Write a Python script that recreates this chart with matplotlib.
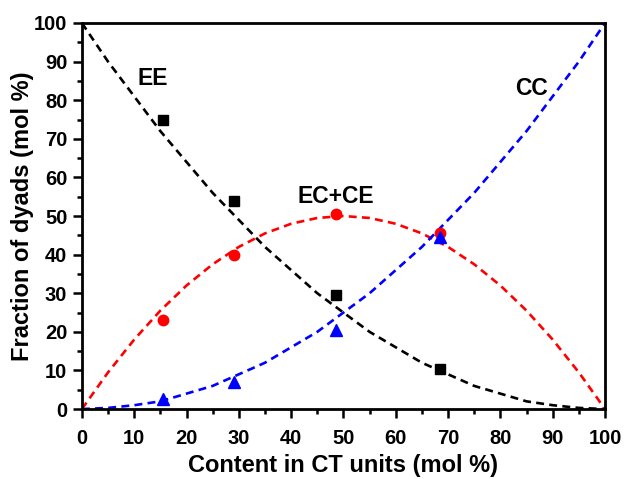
import matplotlib
matplotlib.use('Agg')
import matplotlib.pyplot as plt
from matplotlib.ticker import MultipleLocator

plt.rcParams['font.family'] = ['Liberation Sans', 'DejaVu Sans']
plt.rcParams['font.weight'] = 'bold'

# dashed curves, every 5 mol %
x_curve = [0, 5, 10, 15, 20, 25, 30, 35, 40, 45, 50, 55, 60, 65, 70, 75, 80, 85, 90, 95, 100]
ee_curve = [100, 90, 81, 72, 64, 56, 49, 42, 36, 30, 25, 20, 16, 12, 9, 6, 4, 2, 1, 0.3, 0]
ecce_curve = [0, 9.5, 18, 25.5, 32, 37.5, 42, 45.5, 48, 49.5, 50, 49.5, 48, 45.5, 42, 37.5, 32, 25.5, 18, 9.5, 0]
cc_curve = [0, 0.3, 1, 2, 4, 6, 9, 12, 16, 20, 25, 30, 36, 42, 49, 56, 64, 72, 81, 90, 100]

# measured points
x_pts = [15.5, 29, 48.5, 68.5]
ee_pts = [75, 54, 29.5, 10.5]
ecce_pts = [23, 40, 50.5, 45.5]
cc_pts = [2.5, 7, 20.5, 44.5]

fig = plt.figure(figsize=(6.25, 4.79), dpi=100)
ax = fig.add_axes([0.131, 0.146, 0.837, 0.806])

dash = (0, (3, 2))
ax.plot(x_curve, ee_curve, color='black', lw=1.9, linestyle=dash)
ax.plot(x_curve, ecce_curve, color='#ff0000', lw=1.9, linestyle=dash)
ax.plot(x_curve, cc_curve, color='#0000ff', lw=1.9, linestyle=dash)

ax.plot(x_pts, ee_pts, 's', color='black', ms=6.5, ls='none')
ax.plot(x_pts, ecce_pts, 'o', color='#ff0000', ms=7.5, ls='none')
ax.plot(x_pts, cc_pts, '^', color='#0000ff', ms=8, ls='none')

ax.text(13.5, 85.5, 'EE', fontsize=16.5, fontweight='bold', ha='center', va='center')
ax.text(86, 83, 'CC', fontsize=16.5, fontweight='bold', ha='center', va='center')
ax.text(48.5, 55, 'EC+CE', fontsize=16.5, fontweight='bold', ha='center', va='center')

ax.set_xlim(0, 100)
ax.set_ylim(0, 100)
ax.xaxis.set_major_locator(MultipleLocator(10))
ax.xaxis.set_minor_locator(MultipleLocator(5))
ax.yaxis.set_major_locator(MultipleLocator(10))
ax.yaxis.set_minor_locator(MultipleLocator(5))
ax.tick_params(which='major', direction='out', length=6.5, width=1.8, labelsize=14.5, pad=4)
ax.tick_params(which='minor', direction='out', length=3.5, width=1.8)
ax.tick_params(axis='x', which='major', pad=7.5)
for s in ax.spines.values():
    s.set_linewidth(2)

ax.set_xlabel('Content in CT units (mol %)', fontsize=17, fontweight='bold', labelpad=5)
ax.set_ylabel('Fraction of dyads (mol %)', fontsize=17, fontweight='bold', labelpad=0)

fig.savefig('out.png', dpi=100)
